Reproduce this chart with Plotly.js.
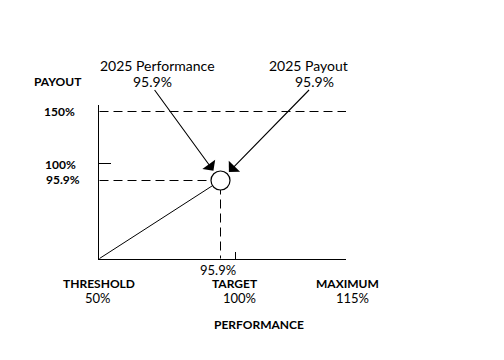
<!DOCTYPE html>
<html>
<head>
<meta charset="utf-8">
<script src="https://cdn.plot.ly/plotly-3.0.1.min.js"></script>
<style>html,body{margin:0;padding:0;background:#fff;}#chart{width:504px;height:360px;}</style>
</head>
<body>
<div id="chart"></div>
<script>
// ---- data ----
const perfLabels = ['THRESHOLD', 'TARGET', 'MAXIMUM'];
const perfValues = [50, 100, 115];          // performance %
const payoutValues = [0, 100, 150];         // payout % at threshold, target, maximum
const resultPerf = 95.9;                    // 2025 performance %
const resultPayout = 95.9;                  // 2025 payout %
const perfAxisTitle = 'PERFORMANCE';
const payoutAxisTitle = 'PAYOUT';

// ---- schematic (non-linear) scales of the original diagram ----
const xScaleTable = [[50, 0], [95.9, 121], [100, 136], [115, 247]];
const yScaleTable = [[0, 0], [95.9, 78], [100, 95], [150, 147]];
function lookup(table, v) {
  for (let i = 0; i < table.length - 1; i++) {
    const [a, pa] = table[i], [b, pb] = table[i + 1];
    if (v >= a && v <= b) return pa + (v - a) / (b - a) * (pb - pa);
  }
  return table[table.length - 1][1];
}
const sx = v => lookup(xScaleTable, v);
const sy = v => lookup(yScaleTable, v);
const pct = v => v + '%';

const XR = [-0.5, 246.5], YR = [-0.5, 153.5];
const FONT = 'Lato, "Open Sans", sans-serif';
const black = '#000';
const dashPat = '9px,5px';

const xT = sx(perfValues[0]), xM = sx(perfValues[2]);
const yMax = sy(payoutValues[2]);
const rx = sx(resultPerf), ry = sy(resultPayout);

const traces = [
  { x: [xT, rx], y: [sy(payoutValues[0]), ry], mode: 'lines', line: {color: black, width: 1}, hoverinfo: 'skip' },
  { x: [xT, xM, xM], y: [yMax, yMax, sy(0)], mode: 'lines', line: {color: black, width: 1, dash: dashPat}, hoverinfo: 'skip' },
  { x: [xT, rx, rx], y: [ry, ry, sy(0)], mode: 'lines', line: {color: black, width: 1, dash: dashPat}, hoverinfo: 'skip' },
  { x: [rx], y: [ry], mode: 'markers', marker: {size: 19, color: '#fff', line: {color: black, width: 1.2}}, hoverinfo: 'skip' }
];

// helper: text positioned in chart units (1 unit = 1px), converted to paper coords
function txt(text, x, y, opts) {
  return Object.assign({ text: text,
    x: (x - XR[0]) / (XR[1] - XR[0]), y: (y - YR[0]) / (YR[1] - YR[0]),
    xref: 'paper', yref: 'paper', showarrow: false, borderpad: 0,
    xanchor: 'center', yanchor: 'middle', font: {family: FONT, size: 12, color: black} }, opts || {});
}
const f14 = {family: FONT, size: 14, color: black};
const fB = {family: FONT, size: 12, color: black, weight: 'bold'};
const fR = {family: FONT, size: 13, color: black};

const annotations = [
  // arrows
  { x: rx, y: ry, xref: 'x', yref: 'y', text: '', showarrow: true, ax: -67, ay: -92,
    arrowhead: 1, arrowsize: 2.4, arrowwidth: 1.1, arrowcolor: black, standoff: 12 },
  { x: rx, y: ry, xref: 'x', yref: 'y', text: '', showarrow: true, ax: 90, ay: -92,
    arrowhead: 1, arrowsize: 2.4, arrowwidth: 1.1, arrowcolor: black, standoff: 12 },
  txt('2025 Performance', 58, 193, {font: f14}),
  txt(pct(resultPerf), 53, 177, {font: f14}),
  txt('2025 Payout', 209, 193, {font: f14}),
  txt(pct(resultPayout), 215, 177, {font: f14}),
  // y labels
  txt(payoutAxisTitle, -41.5, 177, {font: fB}),
  txt(pct(payoutValues[2]), -57, sy(payoutValues[2]), {xanchor: 'left', font: fB}),
  txt(pct(payoutValues[1]), -56, sy(payoutValues[1]) - 1, {xanchor: 'left', font: fB}),
  txt(pct(resultPayout), -55, ry + 1, {xanchor: 'left', font: fB}),
  // x labels
  txt(pct(resultPerf), rx - 3, -11, {font: fR}),
  txt(perfLabels[0], sx(perfValues[0]) - 1, -25, {font: fB}),
  txt(pct(perfValues[0]), sx(perfValues[0]) - 2, -39, {font: fR}),
  txt(perfLabels[1], sx(perfValues[1]) - 1, -25, {font: fB}),
  txt(pct(perfValues[1]), sx(perfValues[1]) + 4, -39, {font: fR}),
  txt(perfLabels[2], sx(perfValues[2]) + 1, -25, {font: fB}),
  txt(pct(perfValues[2]), sx(perfValues[2]) + 6, -39, {font: fR}),
  txt(perfAxisTitle, 159, -66, {font: fB})
];

const layout = {
  width: 504, height: 360,
  margin: {l: 99, r: 158, t: 105, b: 101, pad: 0},
  paper_bgcolor: '#fff', plot_bgcolor: '#fff',
  showlegend: false,
  xaxis: { range: XR, showgrid: false, zeroline: false, showline: true, linecolor: black, linewidth: 1,
    showticklabels: false, ticks: 'inside', tickvals: [sx(perfValues[1])], ticklen: 7, tickcolor: black, tickwidth: 1, fixedrange: true },
  yaxis: { range: YR, showgrid: false, zeroline: false, showline: true, linecolor: black, linewidth: 1,
    showticklabels: false, ticks: 'inside', tickvals: [sy(payoutValues[1])], ticklen: 12, tickcolor: black, tickwidth: 1, fixedrange: true },
  annotations: annotations
};

Plotly.newPlot('chart', traces, layout, {displayModeBar: false, staticPlot: true});
</script>
</body>
</html>
